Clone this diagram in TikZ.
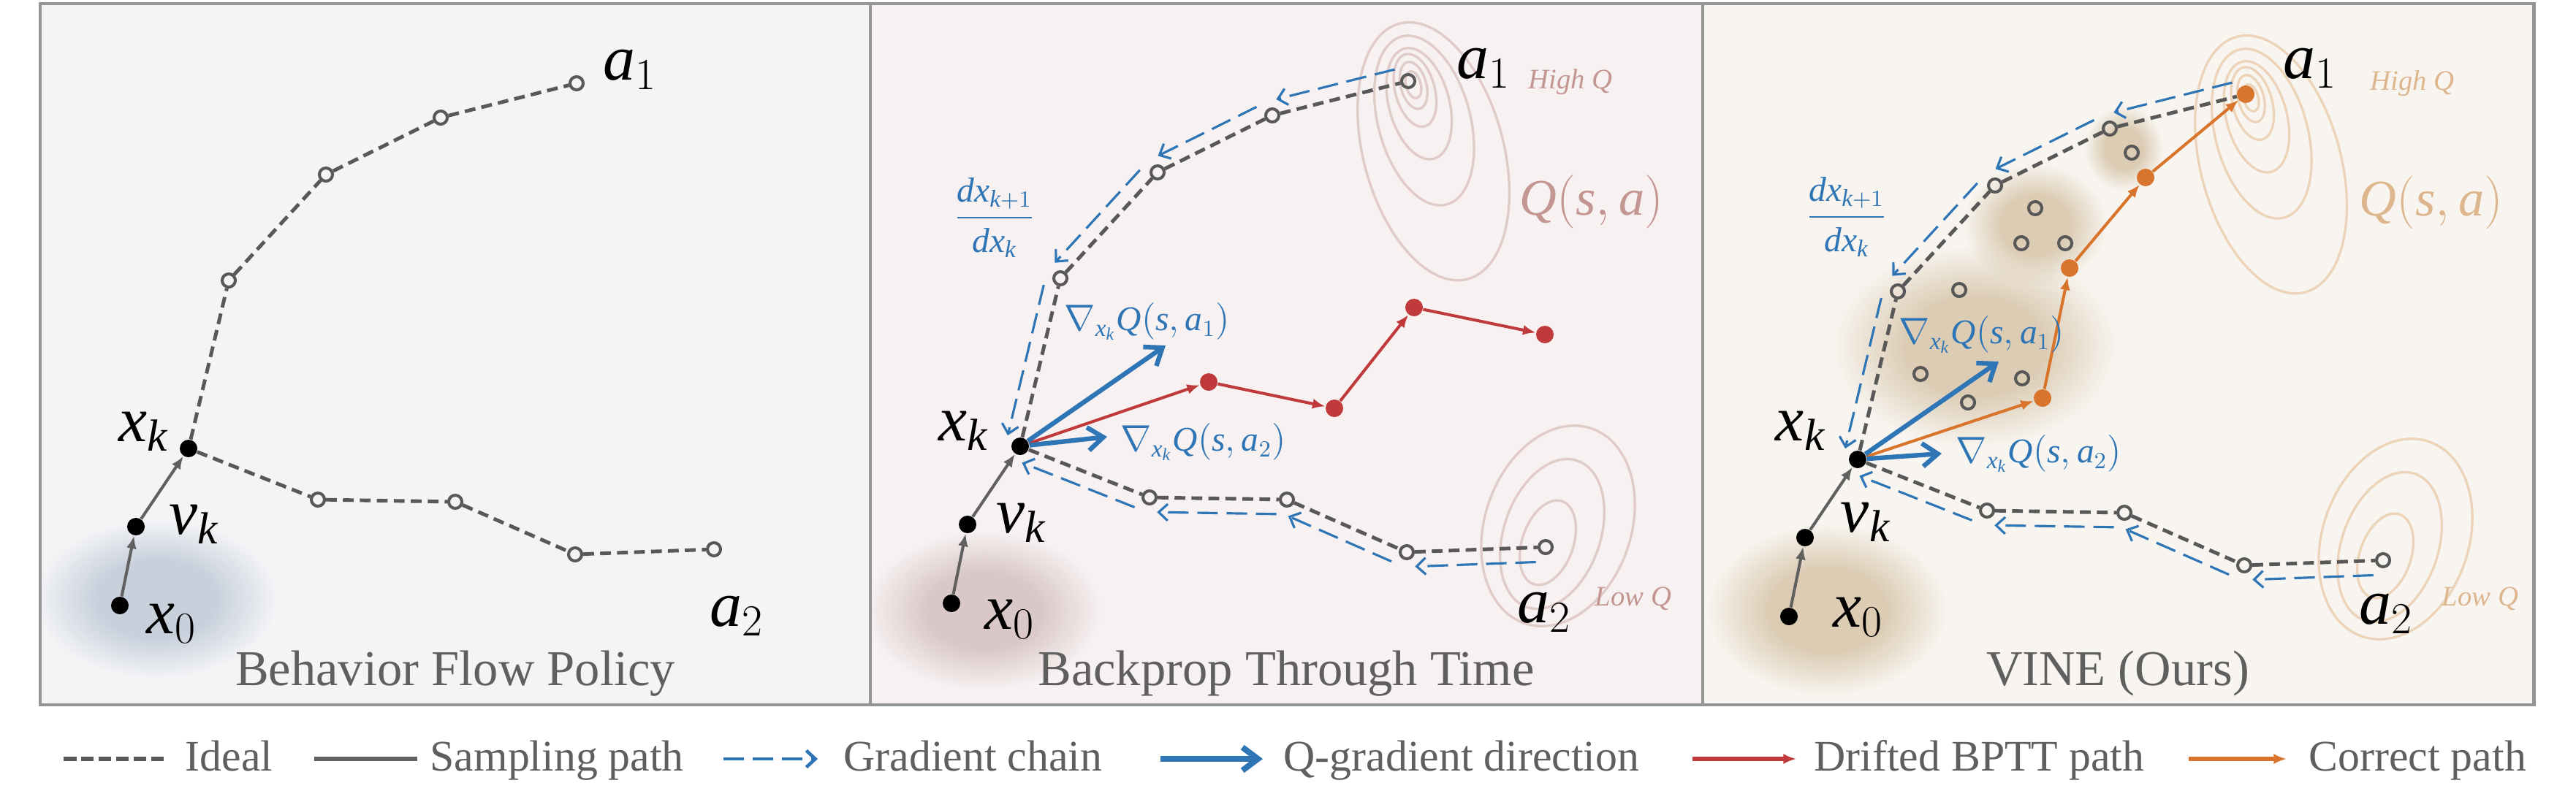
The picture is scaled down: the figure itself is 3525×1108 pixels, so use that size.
\documentclass[tikz,border=0pt]{standalone}
\usepackage{amsmath}
\usepackage{fontspec}
\setmainfont{Liberation Serif}
\usetikzlibrary{arrows.meta, calc, fadings}

\definecolor{idealgrey}{RGB}{88,88,88}
\definecolor{samplegrey}{RGB}{96,96,96}
\definecolor{qblue}{RGB}{46,117,182}
\definecolor{driftred}{RGB}{192,58,59}
\definecolor{correctorange}{RGB}{217,116,44}
\definecolor{framegrey}{RGB}{148,150,150}
\definecolor{titlegrey}{RGB}{95,95,95}
\definecolor{bgone}{RGB}{243,244,246}
\definecolor{bgtwo}{RGB}{247,241,241}
\definecolor{bgthree}{RGB}{248,245,240}
\definecolor{blobone}{RGB}{200,208,220}
\definecolor{blobtwo}{RGB}{218,200,200}
\definecolor{blobthree}{RGB}{220,204,180}
\definecolor{contourtwo}{RGB}{224,203,201}
\definecolor{contourthree}{RGB}{236,212,186}
\definecolor{qtexttwo}{RGB}{196,150,146}
\definecolor{qtextthree}{RGB}{222,182,142}

\newcommand\mv[1]{\textit{#1}}

% soft round blob
\pgfdeclareradialshading{blobshade}{\pgfpointorigin}{color(0bp)=(white); color(12bp)=(white); color(25bp)=(black); color(50bp)=(black)}
\pgfdeclarefading{blobfade}{\pgfuseshading{blobshade}}

% one trajectory fan: #1 prefix, #2 #3 offset, #4 style of a1
\newcommand\flowpanel[4]{%
  \node[blackdot] (#1x0) at ({#2+162},{#3+826}) {};
  \node[blackdot] (#1vk) at ({#2+184},{#3+718}) {};
  \node[blackdot] (#1xk) at ({#2+256},{#3+611}) {};
  \node[#4] (#1a1) at ({#2+787},{#3+111}) {};
  \foreach \n/\px/\py in {u1/311/381, u2/444/236, u3/601/158, l1/433/681, l2/621/684, l3/785/756, a2/975/749}
    \node[hollow] (#1\n) at ({#2+\px},{#3+\py}) {};
  \draw[ideal] (#1xk) -- (#1u1) -- (#1u2) -- (#1u3) -- (#1a1);
  \draw[ideal] (#1xk) -- (#1l1) -- (#1l2) -- (#1l3) -- (#1a2);
  \draw[sampling] (#1x0) -- (#1vk);
  \draw[sampling] (#1vk) -- (#1xk);
}

% contour rings: #1 colour, #2 #3 peak
\newcommand\highrings[3]{%
  \foreach \a/\k in {19/0, 33/1, 51/8, 78/27, 119/51, 181/95}
    \draw[draw=#1, line width=0.95pt, shift={({#2+7+0.29*\k},{#3+5+0.96*\k})}, rotate=15] (0,0) ellipse ({0.53*\a} and {\a});
}
\newcommand\lowrings[3]{%
  \foreach \a/\b/\dx/\dy in {60/35/3/-6, 106/66/9/-18, 141/100/17/-29}
    \draw[draw=#1, line width=0.95pt, shift={({#2+\dx},{#3+\dy})}, rotate=-19] (0,0) ellipse ({\b} and {\a});
}

\newcommand\legenditem[6]{%
  \coordinate (#1a) at (#3,1039);
  \coordinate (#1b) at (#4,1039);
  \draw[#2] (#1a) -- (#1b);
  \node[legendtext] (#1t) at (#5,1055) {#6};
}

\begin{document}
\begin{tikzpicture}[
  x=0.01cm, y=-0.01cm,
  blackdot/.style={circle, fill=black, inner sep=0pt, minimum size=0.24cm},
  hollow/.style={circle, draw=idealgrey, line width=1.15pt, inner sep=0pt, minimum size=0.18cm},
  reddot/.style={circle, fill=driftred, inner sep=0pt, minimum size=0.24cm},
  orangedot/.style={circle, fill=correctorange, inner sep=0pt, minimum size=0.24cm},
  ideal/.style={draw=idealgrey, line width=1.4pt, dash pattern=on 4.2pt off 2.4pt},
  sampling/.style={draw=samplegrey, line width=1.15pt, -{Latex[length=5pt, width=4pt]}},
  drift/.style={draw=driftred, line width=1.15pt, -{Latex[length=5pt, width=4pt]}},
  correct/.style={draw=correctorange, line width=1.15pt, -{Latex[length=5pt, width=4pt]}},
  qgrad/.style={draw=qblue, line width=1.8pt, -{Straight Barb[length=6pt, width=9pt]}},
  gradchain/.style={draw=qblue, line width=0.9pt, dash pattern=on 8pt off 3.4pt,
    -{Straight Barb[length=3.5pt, width=6.5pt]}, shorten <=4pt, shorten >=3pt},
  varlabel/.style={font=\fontsize{25}{30}\selectfont, inner sep=0pt},
  qlabel/.style={text=qblue, font=\fontsize{13.5}{16}\selectfont, inner sep=0pt, anchor=west},
  bigq/.style={font=\fontsize{20}{24}\selectfont, inner sep=0pt},
  levelq/.style={font=\fontsize{11}{13}\selectfont\itshape, inner sep=0pt},
  paneltitle/.style={text=titlegrey, font=\fontsize{19.5}{23}\selectfont, anchor=base, inner sep=0pt},
  legendtext/.style={text=titlegrey, font=\fontsize{17}{20}\selectfont, anchor=base west, inner sep=0pt}
]
\useasboundingbox (0,0) rectangle (3525,1108);
\fill[white] (0,0) rectangle (3525,1108);

% panels
\fill[bgone] (55,5) rectangle (1191,965);
\fill[bgtwo] (1191,5) rectangle (2330,965);
\fill[bgthree] (2330,5) rectangle (3467,965);

% noisy start distributions and VINE samples
\begin{scope}
  \clip (55,5) rectangle (1191,965);
  \fill[blobone, path fading=blobfade] (214,820) ellipse (165 and 108);
\end{scope}
\begin{scope}
  \clip (1191,5) rectangle (2330,965);
  \fill[blobtwo, path fading=blobfade] (1346,836) ellipse (160 and 108);
\end{scope}
\begin{scope}
  \clip (2330,5) rectangle (3467,965);
  \fill[blobthree, path fading=blobfade] (2500,835) ellipse (165 and 118);
  \fill[blobthree, path fading=blobfade] (2702,474) ellipse (195 and 138);
  \fill[blobthree, path fading=blobfade] (2785,308) ellipse (98 and 84);
  \fill[blobthree, path fading=blobfade] (2906,203) ellipse (54 and 58);
\end{scope}

% Q landscape
\highrings{contourtwo}{1927}{111}
\lowrings{contourtwo}{2115}{749}
\highrings{contourthree}{3073}{129}
\lowrings{contourthree}{3261}{767}

\draw[framegrey, line width=0.9pt] (1191,5) -- (1191,965);
\draw[framegrey, line width=0.9pt] (2330,5) -- (2330,965);
\draw[framegrey, line width=1.4pt] (55,5) rectangle (3467,965);

% --- Behavior Flow Policy
\flowpanel{p1-}{2}{3}{hollow}
\node[varlabel] (p1-a1lab) at (862,95) {$\mv{a}_1$};
\node[varlabel] (p1-a2lab) at (1008,843) {$\mv{a}_2$};
\node[varlabel] (p1-xklab) at (197,591) {$\mv{x}_{\mv{k}}$};
\node[varlabel] (p1-vklab) at (266,718) {$\mv{v}_{\mv{k}}$};
\node[varlabel] (p1-x0lab) at (235,854) {$\mv{x}_0$};
\node[paneltitle] (p1-title) at (623,938) {Behavior Flow Policy};

% --- Backprop Through Time
\flowpanel{p2-}{1140}{0}{hollow}
\foreach \s/\e in {a1/u3, u3/u2, u2/u1, u1/xk}
  \draw[gradchain] ($(p2-\s)!0.2cm!-90:(p2-\e)$) -- ($(p2-\e)!0.2cm!90:(p2-\s)$);
\foreach \s/\e in {a2/l3, l3/l2, l2/l1, l1/xk}
  \draw[gradchain] ($(p2-\s)!0.2cm!90:(p2-\e)$) -- ($(p2-\e)!0.2cm!-90:(p2-\s)$);
\node[reddot] (p2-r1) at (1654,523) {};
\node[reddot] (p2-r2) at (1826,559) {};
\node[reddot] (p2-r3) at (1935,421) {};
\node[reddot] (p2-r4) at (2114,458) {};
\foreach \s/\e in {xk/r1, r1/r2, r2/r3, r3/r4}
  \draw[drift] (p2-\s) -- (p2-\e);
\coordinate (p2-g1) at (1595,473);
\coordinate (p2-g2) at (1515,598);
\draw[qgrad] (p2-xk) -- (p2-g1);
\draw[qgrad] (p2-xk) -- (p2-g2);
\node[varlabel] (p2-a1lab) at (2030,93) {$\mv{a}_1$};
\node[varlabel] (p2-a2lab) at (2113,838) {$\mv{a}_2$};
\node[varlabel] (p2-xklab) at (1319,590) {$\mv{x}_{\mv{k}}$};
\node[varlabel] (p2-vklab) at (1398,716) {$\mv{v}_{\mv{k}}$};
\node[varlabel] (p2-x0lab) at (1382,848) {$\mv{x}_0$};
\node[levelq, text=qtexttwo] (p2-high) at (2149,112) {High Q};
\node[levelq, text=qtexttwo] (p2-low) at (2235,820) {Low Q};
\node[bigq, text=qtexttwo] (p2-qsa) at (2178,276) {$\mv{Q}(\mv{s},\mv{a})$};
\node[qlabel, anchor=center] (p2-chain) at (1361,298) {$\displaystyle\frac{\mv{dx}_{\mv{k}+1}}{\mv{dx}_{\mv{k}}}$};
\node[qlabel] (p2-g1lab) at (1456,440) {$\nabla_{\mv{x}_{\mv{k}}} \mv{Q}(\mv{s},\mv{a}_1)$};
\node[qlabel] (p2-g2lab) at (1533,605) {$\nabla_{\mv{x}_{\mv{k}}} \mv{Q}(\mv{s},\mv{a}_2)$};
\node[paneltitle] (p2-title) at (1760,938) {Backprop Through Time};

% --- VINE (Ours)
\flowpanel{p3-}{2286}{18}{orangedot}
\foreach \px/\py [count=\i] in {2917/209, 2785/285, 2766/333, 2826/333, 2681/397, 2628/512, 2767/518, 2693/551}
  \node[hollow] (p3-s\i) at (\px,\py) {};
\foreach \s/\e in {a1/u3, u3/u2, u2/u1, u1/xk}
  \draw[gradchain] ($(p3-\s)!0.2cm!-90:(p3-\e)$) -- ($(p3-\e)!0.2cm!90:(p3-\s)$);
\foreach \s/\e in {a2/l3, l3/l2, l2/l1, l1/xk}
  \draw[gradchain] ($(p3-\s)!0.2cm!90:(p3-\e)$) -- ($(p3-\e)!0.2cm!-90:(p3-\s)$);
\node[orangedot] (p3-o1) at (2795,545) {};
\node[orangedot] (p3-o2) at (2832,367) {};
\node[orangedot] (p3-o3) at (2936,243) {};
\foreach \s/\e in {xk/o1, o1/o2, o2/o3, o3/a1}
  \draw[correct] (p3-\s) -- (p3-\e);
\coordinate (p3-g1) at (2735,495);
\coordinate (p3-g2) at (2657,621);
\draw[qgrad] (p3-xk) -- (p3-g1);
\draw[qgrad] (p3-xk) -- (p3-g2);
\node[varlabel] (p3-a1lab) at (3161,93) {$\mv{a}_1$};
\node[varlabel] (p3-a2lab) at (3265,840) {$\mv{a}_2$};
\node[varlabel] (p3-xklab) at (2464,590) {$\mv{x}_{\mv{k}}$};
\node[varlabel] (p3-vklab) at (2553,715) {$\mv{v}_{\mv{k}}$};
\node[varlabel] (p3-x0lab) at (2543,845) {$\mv{x}_0$};
\node[levelq, text=qtextthree] (p3-high) at (3301,114) {High Q};
\node[levelq, text=qtextthree] (p3-low) at (3394,820) {Low Q};
\node[bigq, text=qtextthree] (p3-qsa) at (3327,277) {$\mv{Q}(\mv{s},\mv{a})$};
\node[qlabel, anchor=center] (p3-chain) at (2527,297) {$\displaystyle\frac{\mv{dx}_{\mv{k}+1}}{\mv{dx}_{\mv{k}}}$};
\node[qlabel] (p3-g1lab) at (2598,458) {$\nabla_{\mv{x}_{\mv{k}}} \mv{Q}(\mv{s},\mv{a}_1)$};
\node[qlabel] (p3-g2lab) at (2676,621) {$\nabla_{\mv{x}_{\mv{k}}} \mv{Q}(\mv{s},\mv{a}_2)$};
\node[paneltitle] (p3-title) at (2898,938) {VINE (Ours)};

% legend
\legenditem{lg1}{ideal, line width=1.7pt, dash pattern=on 5pt off 1.8pt}{87}{230}{253}{Ideal}
\legenditem{lg2}{draw=samplegrey, line width=1.7pt}{430}{571}{588}{Sampling path}
\legenditem{lg3}{gradchain, line width=1.3pt, shorten <=0pt, shorten >=0pt}{990}{1119}{1154}{Gradient chain}
\legenditem{lg4}{qgrad, line width=2.3pt}{1588}{1728}{1756}{Q-gradient direction}
\legenditem{lg5}{drift, line width=1.8pt}{2316}{2458}{2482}{Drifted BPTT path}
\legenditem{lg6}{correct, line width=1.8pt}{2995}{3129}{3159}{Correct path}
\end{tikzpicture}
\end{document}
